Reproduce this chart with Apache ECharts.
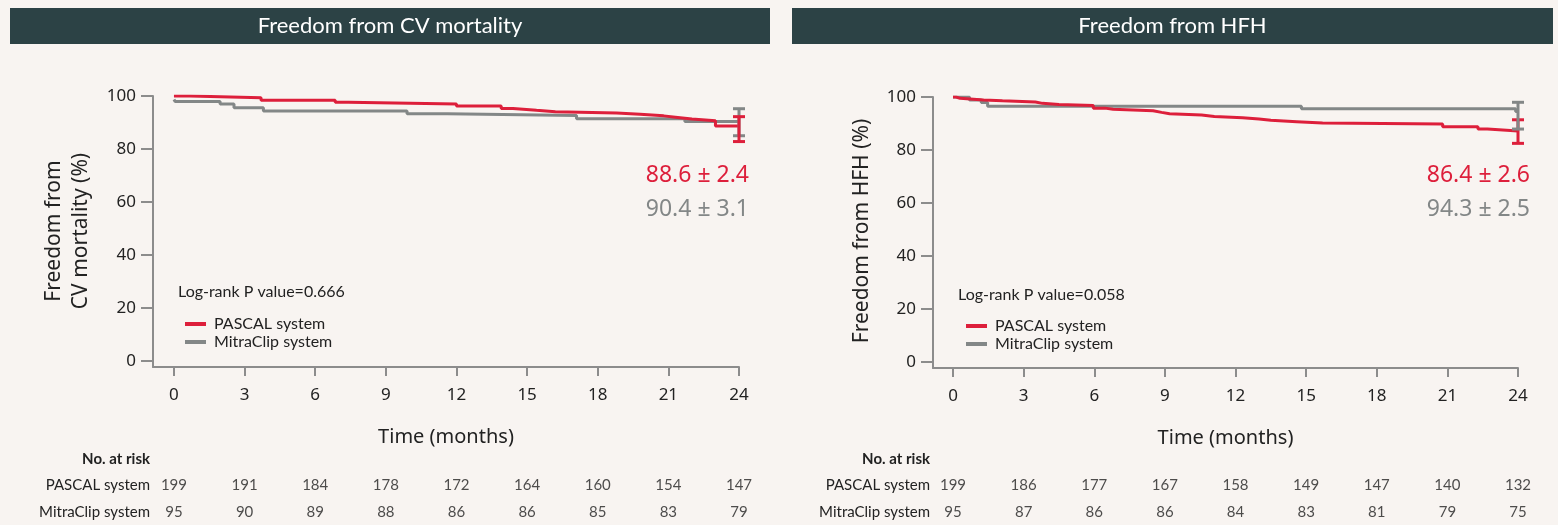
<!DOCTYPE html>
<html>
<head>
<meta charset="utf-8">
<script src="https://cdn.jsdelivr.net/npm/echarts@6/dist/echarts.min.js"></script>
<style>
html,body{margin:0;padding:0;background:#f8f4f1;}
#chart{width:1558px;height:525px;}
</style>
</head>
<body>
<div id="chart"></div>
<script>
// ---- data ----
const xTicks = [0, 3, 6, 9, 12, 15, 18, 21, 24];
const yTicks = [0, 20, 40, 60, 80, 100];
const seriesNames = ['PASCAL system', 'MitraClip system'];
const panelTitles = ['Freedom from CV mortality', 'Freedom from HFH'];
const yNames = ['Freedom from\nCV mortality (%)', 'Freedom from HFH (%)'];
const logRank = ['Log-rank P value=0.666', 'Log-rank P value=0.058'];

// CV mortality
const cvPascalT = [0, 0.68, 3.7, 6.85, 7.4, 12.0, 13.9, 14.4, 15.4, 16.2, 18.8, 19.8, 20.8, 21.3, 22.0, 23.0, 24.0];
const cvPascalS = [100, 99.3, 98.4, 97.6, 97.0, 96.2, 95.3, 94.6, 94.1, 93.6, 93.1, 92.5, 92.0, 91.3, 90.7, 88.7, 88.7];
const cvMitraT = [0, 0.05, 1.96, 2.55, 3.8, 9.9, 11.6, 17.1, 21.7, 24.0];
const cvMitraS = [98.7, 97.9, 97.0, 95.6, 94.3, 93.3, 92.6, 91.4, 90.4, 90.4];
const cvEstimates = ['88.6 ± 2.4', '90.4 ± 3.1'];
const cvPascalCI = [24, 82.8, 92.2];
const cvMitraCI = [24, 85.0, 95.2];
const cvRiskPascal = [199, 191, 184, 178, 172, 164, 160, 154, 147];
const cvRiskMitra = [95, 90, 89, 88, 86, 86, 85, 83, 79];

// HFH
const hfPascalT = [0, 0.13, 0.3, 1.3, 2.1, 3.5, 3.8, 4.5, 5.96, 6.45, 6.8, 8.5, 8.86, 9.2, 10.56, 11.1, 12.3, 13.0, 13.5, 14.6, 15.7, 20.8, 22.3, 22.7, 24.0];
const hfPascalS = [100, 99.5, 98.9, 98.6, 98.1, 97.6, 97.2, 96.8, 95.8, 95.4, 94.8, 94.2, 93.7, 93.2, 92.6, 92.2, 91.7, 91.2, 90.7, 90.2, 89.8, 88.8, 87.9, 87.2, 87.2];
const hfMitraT = [0, 0.7, 1.2, 1.47, 14.8, 23.9, 24.0];
const hfMitraS = [100, 98.9, 97.9, 96.5, 95.6, 94.5, 94.5];
const hfEstimates = ['86.4 ± 2.6', '94.3 ± 2.5'];
const hfPascalCI = [24, 82.5, 91.4];
const hfMitraCI = [24, 87.9, 98.0];
const hfRiskPascal = [199, 186, 177, 167, 158, 149, 147, 140, 132];
const hfRiskMitra = [95, 87, 86, 86, 84, 83, 81, 79, 75];

// ---- styling ----
const RED = '#dd1f3b';
const GRAY = '#838787';
const AXIS = '#8c8c8c';
const TXT = '#222222';
const BAR = '#2c4245';

const chart = echarts.init(document.getElementById('chart'), null, {renderer: 'canvas'});

function pairs(t, s) { return t.map((v, i) => [v, s[i]]); }

const panels = [
  {left: 153, width: 586, xmin: -0.89, plotTop: 96, estX: 749, risk: [cvRiskPascal, cvRiskMitra],
   km: [[cvPascalT, cvPascalS], [cvMitraT, cvMitraS]], ci: [cvPascalCI, cvMitraCI], est: cvEstimates,
   barX: 10, barW: 760, yNameX: 68, lr: [178, 292], lg: [180, 311]},
  {left: 933, width: 585, xmin: -0.85, plotTop: 97, estX: 1530, risk: [hfRiskPascal, hfRiskMitra],
   km: [[hfPascalT, hfPascalS], [hfMitraT, hfMitraS]], ci: [hfPascalCI, hfMitraCI], est: hfEstimates,
   barX: 792, barW: 761, yNameX: 862, lr: [958, 295], lg: [961, 313]}
];

const grid = [], xAxis = [], yAxis = [], series = [], graphic = [], legend = [];

function errRender(color) {
  return function (params, api) {
    const x = api.value(0);
    const lo = api.coord([x, api.value(1)]);
    const hi = api.coord([x, api.value(2)]);
    const st = {stroke: color, lineWidth: 3};
    return {type: 'group', children: [
      {type: 'line', shape: {x1: lo[0], y1: lo[1], x2: hi[0], y2: hi[1]}, style: st},
      {type: 'line', shape: {x1: lo[0] - 6, y1: lo[1], x2: lo[0] + 6, y2: lo[1]}, style: st},
      {type: 'line', shape: {x1: hi[0] - 6, y1: hi[1], x2: hi[0] + 6, y2: hi[1]}, style: st}
    ]};
  };
}

panels.forEach((p, k) => {
  const gi = k * 2;
  // main plot
  grid.push({left: p.left, width: p.width, top: p.plotTop, height: 271, containLabel: false});
  xAxis.push({
    type: 'value', gridIndex: gi, min: p.xmin, max: 24,
    name: 'Time (months)', nameLocation: 'middle', nameGap: 60,
    nameTextStyle: {fontSize: 20, color: TXT, fontFamily: 'Noto Sans'},
    axisLine: {show: true, onZero: false, lineStyle: {color: AXIS, width: 2}},
    axisTick: {show: true, length: 9, customValues: xTicks, lineStyle: {color: AXIS, width: 2}},
    axisLabel: {customValues: xTicks, margin: 20, fontSize: 17, color: TXT, fontFamily: 'Noto Sans'},
    splitLine: {show: false}
  });
  yAxis.push({
    type: 'value', gridIndex: gi, min: -2.3, max: 100,
    axisLine: {show: true, onZero: false, lineStyle: {color: AXIS, width: 2}},
    axisTick: {show: true, length: 12, customValues: yTicks, lineStyle: {color: AXIS, width: 2}},
    axisLabel: {customValues: yTicks, margin: 17, fontSize: 17, color: TXT, fontFamily: 'Noto Sans'},
    splitLine: {show: false}
  });
  // risk table grid
  grid.push({left: p.left, width: p.width, top: 472, height: 53, containLabel: false});
  xAxis.push({type: 'value', gridIndex: gi + 1, min: p.xmin, max: 24, show: false});
  yAxis.push({
    type: 'category', gridIndex: gi + 1, data: seriesNames, inverse: true,
    axisLine: {show: false}, axisTick: {show: false},
    axisLabel: {margin: 3, fontSize: 15, color: TXT, fontFamily: 'Lato'}
  });

  const colors = [RED, GRAY];
  const ciOrder = k === 0 ? [1, 0] : [0, 1];
  p.km.forEach((d, j) => {
    series.push({
      type: 'line', name: seriesNames[j], xAxisIndex: gi, yAxisIndex: gi,
      data: pairs(d[0], d[1]), step: 'end', showSymbol: false, symbol: 'none',
      lineStyle: {color: colors[j], width: 3}, itemStyle: {color: colors[j]},
      z: j === 0 ? 4 : 3, silent: true, animation: false
    });
  });
  ciOrder.forEach((j, n) => {
    series.push({
      type: 'custom', name: seriesNames[j] + ' CI', xAxisIndex: gi, yAxisIndex: gi,
      data: [p.ci[j]], encode: {x: 0, y: [1, 2]}, renderItem: errRender(colors[j]),
      z: 5 + n, silent: true, animation: false, clip: false
    });
  });
  p.risk.forEach((arr, j) => {
    series.push({
      type: 'scatter', name: seriesNames[j] + ' risk', xAxisIndex: gi + 1, yAxisIndex: gi + 1,
      data: arr.map((v, i) => [xTicks[i], seriesNames[j], v]),
      symbolSize: 1, itemStyle: {color: 'rgba(0,0,0,0)'},
      label: {show: true, position: 'inside', formatter: (q) => String(q.value[2]), fontSize: 15, color: TXT, fontFamily: 'Lato'},
      silent: true, animation: false
    });
  });

  legend.push({
    left: p.lg[0], top: p.lg[1], orient: 'vertical', data: seriesNames,
    icon: 'rect', itemWidth: 21, itemHeight: 4, itemGap: 2, selectedMode: false,
    textStyle: {fontSize: 16, color: TXT, fontFamily: 'Lato', padding: [0, 0, 0, 3]}
  });

  graphic.push({type: 'rect', left: p.barX, top: 8, shape: {width: p.barW, height: 36}, style: {fill: BAR}, silent: true});
  graphic.push({type: 'text', x: p.barX + p.barW / 2, y: 26, style: {text: panelTitles[k], fill: '#ffffff', font: '22px Lato', textAlign: 'center', textVerticalAlign: 'middle'}, silent: true});
  graphic.push({type: 'text', x: p.yNameX, y: 231, rotation: Math.PI / 2,
    style: {text: yNames[k], fill: TXT, font: '21px "Noto Sans"', textAlign: 'center', textVerticalAlign: 'middle', lineHeight: 27}, silent: true});
  graphic.push({type: 'text', x: p.estX, y: 175, style: {text: p.est[0], fill: RED, font: '23px "Noto Sans"', textAlign: 'right', textVerticalAlign: 'middle'}, silent: true});
  graphic.push({type: 'text', x: p.estX, y: 209, style: {text: p.est[1], fill: GRAY, font: '23px "Noto Sans"', textAlign: 'right', textVerticalAlign: 'middle'}, silent: true});
  graphic.push({type: 'text', x: p.lr[0], y: p.lr[1], style: {text: logRank[k], fill: TXT, font: '16px Lato', textAlign: 'left', textVerticalAlign: 'middle'}, silent: true});
  graphic.push({type: 'text', x: p.left - 3, y: 459, style: {text: 'No. at risk', fill: TXT, font: 'bold 15px Lato', textAlign: 'right', textVerticalAlign: 'middle'}, silent: true});
});

chart.setOption({
  backgroundColor: '#f8f4f1',
  animation: false,
  grid, xAxis, yAxis, series, legend, graphic
});
</script>
</body>
</html>
